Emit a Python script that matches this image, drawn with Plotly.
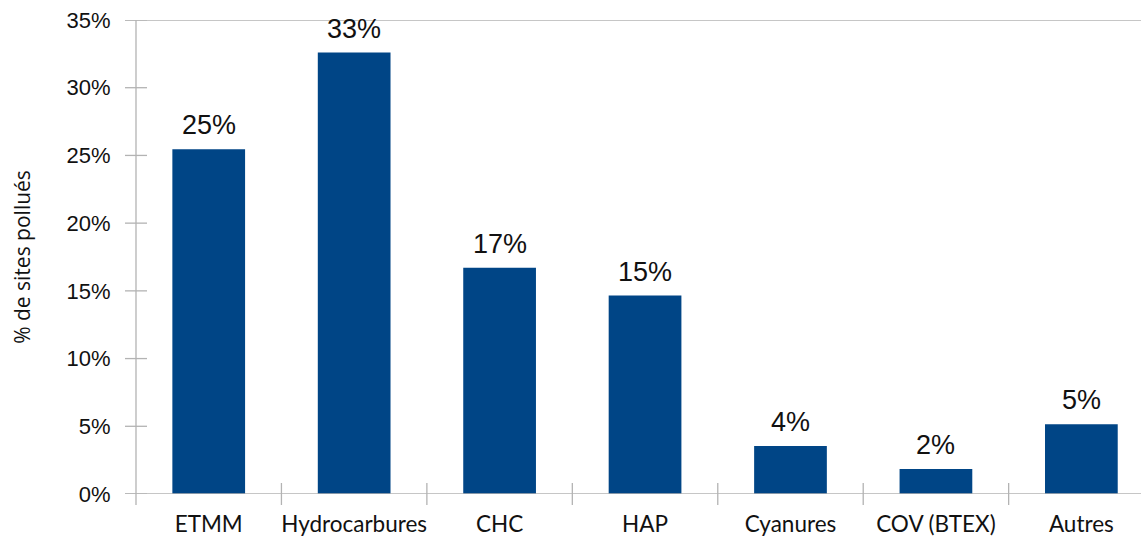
import plotly.graph_objects as go

categories = ["ETMM", "Hydrocarbures", "CHC", "HAP", "Cyanures", "COV (BTEX)", "Autres"]
values = [25.45, 32.6, 16.7, 14.65, 3.55, 1.85, 5.15]
y_ticks = [0, 5, 10, 15, 20, 25, 30, 35]
y_tick_labels = [f"{t}%" for t in y_ticks]

BAR = "#004586"
AXIS = "#b3b3b3"
W, H = 1141, 539
L, R, T, B = 136, 0, 20, 45
pw, ph = W - L - R, H - T - B
dx = 11 / pw          # tick half-length in paper x units
dy = 11 / ph          # tick half-length in paper y units

fig = go.Figure(go.Bar(
    x=list(range(len(categories))), y=values,
    marker=dict(color=BAR, line=dict(width=0)),
    width=0.5, hoverinfo="skip",
))

shapes = []
# frame lines
shapes.append(dict(type="line", xref="paper", yref="y", x0=-dx, x1=1, y0=0, y1=0,
                   line=dict(color=AXIS, width=1.3)))
shapes.append(dict(type="line", xref="paper", yref="y", x0=-dx, x1=1, y0=35, y1=35,
                   line=dict(color=AXIS, width=1.3)))
shapes.append(dict(type="line", xref="paper", yref="paper", x0=0, x1=0, y0=-dy, y1=1,
                   line=dict(color=AXIS, width=1.3)))
# y ticks crossing the axis
for t in y_ticks:
    shapes.append(dict(type="line", xref="paper", yref="y", x0=-dx, x1=dx, y0=t, y1=t,
                       line=dict(color=AXIS, width=1.3)))
# category boundary ticks
for i in range(1, len(categories)):
    shapes.append(dict(type="line", xref="x", yref="paper", x0=i - 0.5, x1=i - 0.5,
                       y0=-dy, y1=dy, line=dict(color=AXIS, width=1.3)))

annotations = [
    dict(x=i, y=v, xref="x", yref="y", text=f"{v:.0f}%", showarrow=False,
         yanchor="bottom", yshift=7,
         font=dict(family="Liberation Sans", size=27, color="#111111"))
    for i, v in enumerate(values)
]

fig.update_layout(
    width=W, height=H,
    margin=dict(l=L, r=R, t=T, b=B, pad=0),
    paper_bgcolor="white", plot_bgcolor="white",
    showlegend=False,
    shapes=shapes,
    annotations=annotations,
    xaxis=dict(
        range=[-0.5, 6.41],
        tickmode="array", tickvals=list(range(len(categories))), ticktext=categories,
        ticks="outside", ticklen=10, tickcolor="rgba(0,0,0,0)",
        showline=False, showgrid=False, zeroline=False,
        tickfont=dict(family="Lato", size=22.5, color="#111111"),
    ),
    yaxis=dict(
        range=[0, 35],
        tickmode="array", tickvals=y_ticks, ticktext=y_tick_labels,
        ticks="outside", ticklen=20, tickcolor="rgba(0,0,0,0)",
        showline=False, showgrid=False, zeroline=False,
        tickfont=dict(family="Liberation Sans", size=22, color="#111111"),
        title=dict(text="% de sites pollués", standoff=30,
                   font=dict(family="Open Sans", size=21, color="#111111")),
    ),
)

fig.write_html("out.html")
